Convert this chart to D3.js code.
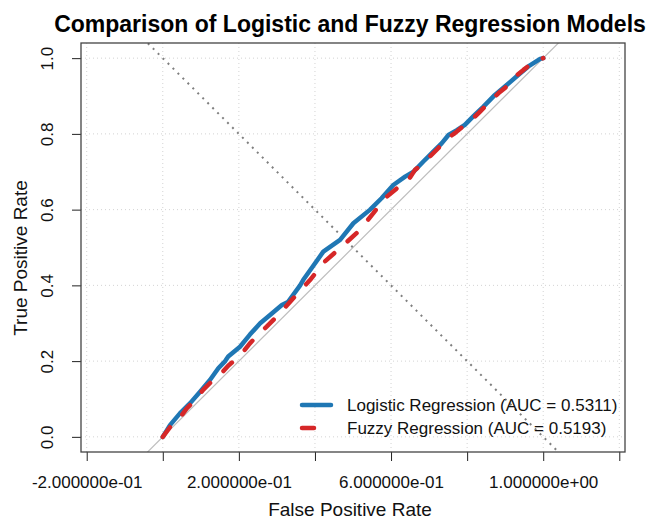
<!DOCTYPE html>
<html>
<head>
<meta charset="utf-8">
<script src="https://cdn.jsdelivr.net/npm/d3@7"></script>
<style>
  body { margin: 0; background: #fff; }
  svg { font-family: "Liberation Sans", Arial, sans-serif; display: block; }
</style>
</head>
<body>
<div id="container"></div>
<script>
var width = 653;
var height = 521;

// ROC points: [false positive rate, true positive rate]
var logisticRoc = [
  [0, 0], [0.019, 0.031], [0.045, 0.062], [0.072, 0.089], [0.098, 0.119],
  [0.124, 0.150], [0.146, 0.181], [0.164, 0.200], [0.172, 0.212], [0.203, 0.238],
  [0.229, 0.270], [0.256, 0.300], [0.282, 0.322], [0.313, 0.348], [0.329, 0.356],
  [0.361, 0.400], [0.369, 0.414], [0.422, 0.489], [0.466, 0.520], [0.501, 0.564],
  [0.545, 0.600], [0.575, 0.630], [0.606, 0.665], [0.637, 0.687], [0.659, 0.700],
  [0.685, 0.727], [0.711, 0.753], [0.733, 0.775], [0.751, 0.797], [0.773, 0.810],
  [0.794, 0.824], [0.816, 0.846], [0.843, 0.872], [0.873, 0.903], [0.904, 0.929],
  [0.935, 0.956], [0.961, 0.978], [0.992, 0.998], [1, 1]
];

var fuzzyRoc = [
  [0, 0], [0.023, 0.031], [0.041, 0.045], [0.063, 0.075], [0.085, 0.097],
  [0.106, 0.124], [0.128, 0.146], [0.150, 0.163], [0.172, 0.188], [0.190, 0.203],
  [0.212, 0.225], [0.229, 0.247], [0.256, 0.275], [0.273, 0.291], [0.299, 0.317],
  [0.343, 0.366], [0.387, 0.414], [0.426, 0.463], [0.470, 0.502], [0.514, 0.542],
  [0.553, 0.590], [0.584, 0.630], [0.615, 0.656], [0.641, 0.671], [0.663, 0.705],
  [0.685, 0.722], [0.702, 0.740], [0.724, 0.762], [0.742, 0.784], [0.768, 0.802],
  [0.794, 0.824], [0.816, 0.841], [0.834, 0.859], [0.860, 0.885], [0.882, 0.907],
  [0.904, 0.925], [0.921, 0.947], [0.948, 0.969], [0.970, 0.986], [1, 1]
];

var modelNames = ["Logistic Regression", "Fuzzy Regression"];
var modelAuc = ["0.5311", "0.5193"];

var xTickValues = [-0.2, 0, 0.2, 0.4, 0.6, 0.8, 1.0, 1.2];
var xTickLabels = ["-2.000000e-01", "", "2.000000e-01", "", "6.000000e-01", "", "1.000000e+00", ""];
var yTickValues = [0, 0.2, 0.4, 0.6, 0.8, 1.0];
var yTickLabels = ["0.0", "0.2", "0.4", "0.6", "0.8", "1.0"];

var box = {left: 81, right: 625, top: 43, bottom: 452};

var x = d3.scaleLinear().domain([-0.215, 1.215]).range([box.left, box.right]);
var y = d3.scaleLinear().domain([-0.04, 1.04]).range([box.bottom, box.top]);

var svg = d3.select("#container")
  .append("svg")
  .attr("width", width)
  .attr("height", height);

svg.append("rect")
  .attr("width", width)
  .attr("height", height)
  .attr("fill", "#fff");

var plot = svg.append("g");
plot.append("clipPath")
  .attr("id", "clip-box")
  .append("rect")
  .attr("x", box.left)
  .attr("y", box.top)
  .attr("width", box.right - box.left)
  .attr("height", box.bottom - box.top);

// dotted grid
var grid = plot.append("g")
  .attr("stroke", "#d3d3d3")
  .attr("stroke-width", 1)
  .attr("stroke-dasharray", "1,3");

grid.selectAll("line.v")
  .data(xTickValues)
  .enter().append("line")
  .attr("class", "v")
  .attr("x1", function(d) { return x(d); })
  .attr("x2", function(d) { return x(d); })
  .attr("y1", box.top)
  .attr("y2", box.bottom);

grid.selectAll("line.h")
  .data(yTickValues)
  .enter().append("line")
  .attr("class", "h")
  .attr("x1", box.left)
  .attr("x2", box.right)
  .attr("y1", function(d) { return y(d); })
  .attr("y2", function(d) { return y(d); });

var inner = plot.append("g").attr("clip-path", "url(#clip-box)");

// chance line y = x
inner.append("line")
  .attr("x1", x(-0.3)).attr("y1", y(-0.3))
  .attr("x2", x(1.3)).attr("y2", y(1.3))
  .attr("stroke", "#bdbdbd")
  .attr("stroke-width", 1.2);

// y = 1 - x
inner.append("line")
  .attr("x1", x(-0.3)).attr("y1", y(1.3))
  .attr("x2", x(1.3)).attr("y2", y(-0.3))
  .attr("stroke", "#7f7f7f")
  .attr("stroke-width", 2)
  .attr("stroke-dasharray", "2,5");

var line = d3.line()
  .x(function(d) { return x(d[0]); })
  .y(function(d) { return y(d[1]); });

inner.append("path")
  .datum(logisticRoc)
  .attr("d", line)
  .attr("fill", "none")
  .attr("stroke", "#1f77b4")
  .attr("stroke-width", 4.5)
  .attr("stroke-linejoin", "round")
  .attr("stroke-linecap", "round");

inner.append("path")
  .datum(fuzzyRoc)
  .attr("d", line)
  .attr("fill", "none")
  .attr("stroke", "#d62728")
  .attr("stroke-width", 4.5)
  .attr("stroke-dasharray", "12,18")
  .attr("stroke-linejoin", "round")
  .attr("stroke-linecap", "round");

// axes
var xAxis = svg.append("g")
  .attr("transform", "translate(0," + box.bottom + ")")
  .call(d3.axisBottom(x)
    .tickValues(xTickValues)
    .tickSize(9)
    .tickSizeOuter(0)
    .tickFormat(function(d, i) { return xTickLabels[i]; }));

xAxis.select(".domain").remove();
xAxis.selectAll(".tick line").attr("stroke", "#222");
xAxis.selectAll(".tick text")
  .attr("y", 36)
  .attr("dy", 0)
  .attr("fill", "#111")
  .style("font-size", "17px");

var yAxis = svg.append("g")
  .attr("transform", "translate(" + box.left + ",0)")
  .call(d3.axisLeft(y)
    .tickValues(yTickValues)
    .tickSize(9)
    .tickSizeOuter(0)
    .tickFormat(function(d, i) { return yTickLabels[i]; }));

yAxis.select(".domain").remove();
yAxis.selectAll(".tick line").attr("stroke", "#222");
yAxis.selectAll(".tick text")
  .attr("transform", "rotate(-90)")
  .attr("x", 0)
  .attr("y", -28)
  .attr("dy", 0)
  .attr("text-anchor", "middle")
  .attr("fill", "#111")
  .style("font-size", "17px");

// frame
svg.append("rect")
  .attr("x", box.left)
  .attr("y", box.top)
  .attr("width", box.right - box.left)
  .attr("height", box.bottom - box.top)
  .attr("fill", "none")
  .attr("stroke", "#444")
  .attr("stroke-width", 1.3);

// titles
svg.append("text")
  .attr("x", 350)
  .attr("y", 32)
  .attr("text-anchor", "middle")
  .style("font-size", "23px")
  .style("font-weight", "bold")
  .attr("fill", "#000")
  .text("Comparison of Logistic and Fuzzy Regression Models");

svg.append("text")
  .attr("x", 350)
  .attr("y", 516)
  .attr("text-anchor", "middle")
  .style("font-size", "19px")
  .attr("fill", "#111")
  .text("False Positive Rate");

svg.append("text")
  .attr("transform", "rotate(-90)")
  .attr("x", -258)
  .attr("y", 26.5)
  .attr("text-anchor", "middle")
  .style("font-size", "19px")
  .attr("fill", "#111")
  .text("True Positive Rate");

// legend
var legendColors = ["#1f77b4", "#d62728"];
var legendDash = [null, "12,18"];
var legend = svg.append("g")
  .selectAll("g")
  .data(modelNames)
  .enter().append("g")
  .attr("transform", function(d, i) { return "translate(300," + (405 + i * 23) + ")"; });

legend.append("line")
  .attr("x1", 2).attr("x2", 31)
  .attr("stroke", function(d, i) { return legendColors[i]; })
  .attr("stroke-width", 4.5)
  .attr("stroke-linecap", "round")
  .attr("stroke-dasharray", function(d, i) { return legendDash[i]; });

legend.append("text")
  .attr("x", 47)
  .attr("dy", "0.35em")
  .style("font-size", "17px")
  .attr("fill", "#111")
  .text(function(d, i) { return d + " (AUC = " + modelAuc[i] + ")"; });
</script>
</body>
</html>
